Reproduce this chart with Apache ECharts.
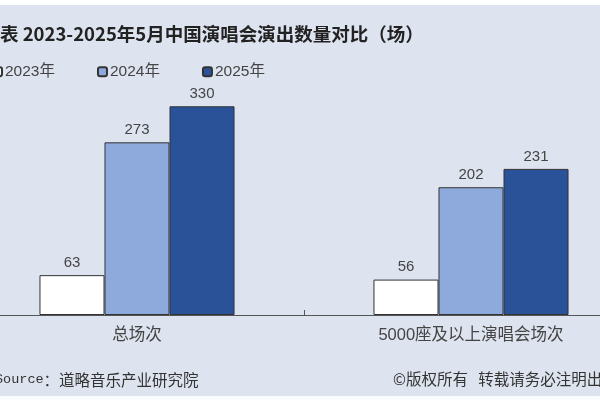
<!DOCTYPE html>
<html><head><meta charset="utf-8">
<script src="https://cdn.jsdelivr.net/npm/echarts@6/dist/echarts.min.js"></script>
<style>html,body{margin:0;padding:0;background:#fff}#c{width:600px;height:400px}</style>
</head><body><div id="c"></div>
<script>
const categories = ['总场次', '5000座及以上演唱会场次'];
const seriesNames = ['2023年', '2024年', '2025年'];
const values2023 = [63, 56];
const values2024 = [273, 202];
const values2025 = [330, 231];
const titleText = '表 2023-2025年5月中国演唱会演出数量对比（场）';
const sourceText = '道略音乐产业研究院';
const copyrightText = '©版权所有   转载请务必注明出处';

const colors = ['#ffffff', '#8eaadd', '#2a5299'];
const font = '"Liberation Sans", "Noto Sans CJK SC", sans-serif';
const chart = echarts.init(document.getElementById('c'));
const mk = (name, data, i) => ({
  name, type: 'bar', data, barGap: '0%', barCategoryGap: '41.6%',
  itemStyle: { color: colors[i], borderColor: '#333', borderWidth: 1 },
  label: { show: true, position: 'top', distance: 5, color: '#444', fontSize: 15, fontFamily: font }
});
chart.setOption({
  animation: false,
  backgroundColor: '#dde4ef',
  graphic: [
    { type: 'rect', shape: { x: 0, y: 0, width: 600, height: 5 }, style: { fill: '#ffffff' }, silent: true },
    { type: 'rect', shape: { x: 0, y: 396, width: 600, height: 4 }, style: { fill: '#fafbfd' }, silent: true },
    { type: 'text', left: -5, top: 372, style: {
        text: '{a|Source}{b|：' + sourceText + '}',
        rich: { a: { fontFamily: '"Liberation Mono", monospace', fontSize: 13.5, fill: '#333' },
                b: { fontFamily: '"Noto Sans CJK SC", sans-serif', fontSize: 15.5, fill: '#333' } } } },
    { type: 'text', left: 393, top: 371, style: { text: copyrightText, fontFamily: '"Noto Sans CJK SC", sans-serif', fontSize: 15.5, fill: '#333' } }
  ],
  title: { text: titleText, left: -5, top: 20, textStyle: { fontSize: 18.5, fontWeight: 'bold', color: '#222', fontFamily: '"Noto Sans CJK SC", sans-serif' } },
  legend: { data: seriesNames, left: -13, top: 59, itemWidth: 9, itemHeight: 9, itemGap: 42,
    textStyle: { fontSize: 15.5, color: '#444', fontFamily: font, padding: [0, 0, 0, -2] } },
  grid: { left: -30, width: 668, top: 62, height: 253, containLabel: false, outerBoundsMode: 'none' },
  xAxis: { type: 'category', data: categories,
    axisLine: { lineStyle: { color: '#555', width: 1 } },
    axisTick: { show: true, inside: true, length: 5, lineStyle: { color: '#555' } },
    axisLabel: { color: '#444', fontSize: 16.5, margin: 12, fontFamily: font } },
  yAxis: { type: 'value', min: 0, max: 400, show: false, splitLine: { show: false } },
  series: [mk(seriesNames[0], values2023, 0), mk(seriesNames[1], values2024, 1), mk(seriesNames[2], values2025, 2)]
});
</script></body></html>
